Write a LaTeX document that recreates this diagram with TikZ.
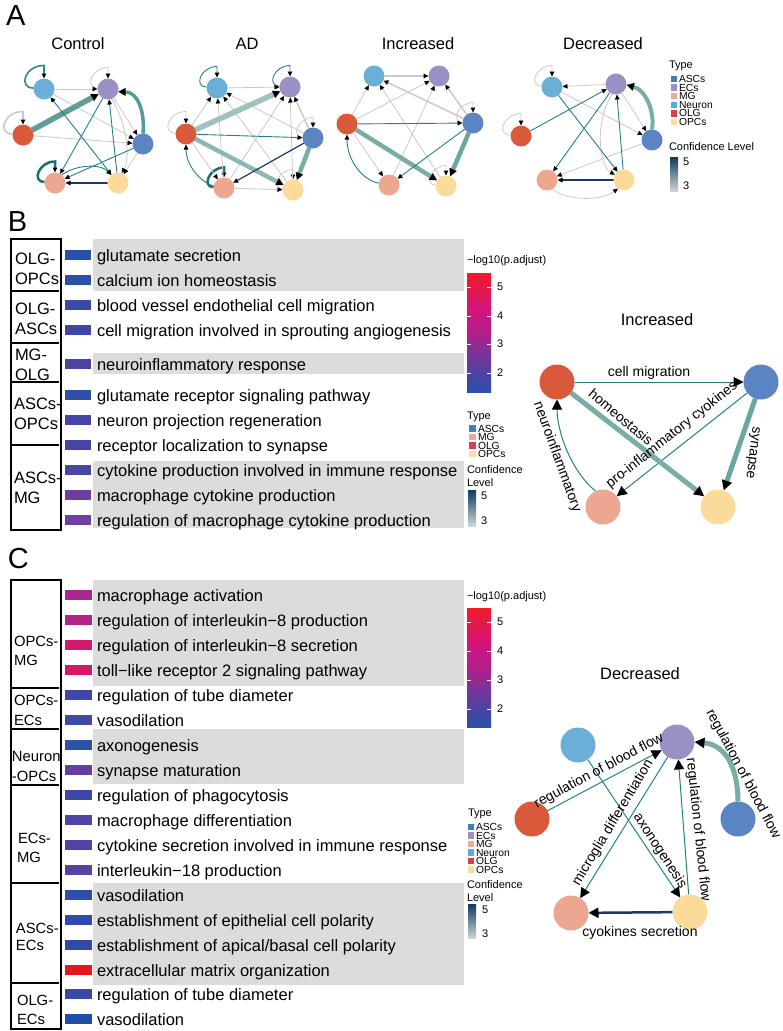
\documentclass[tikz,border=0pt]{standalone}
\usepackage{fontspec}
\setmainfont{Liberation Sans}
\usetikzlibrary{arrows.meta,calc}
\definecolor{cNeu}{HTML}{6BAED6}
\definecolor{cEC}{HTML}{9A90C4}
\definecolor{cOLG}{HTML}{D95A3A}
\definecolor{cASC}{HTML}{5B84C3}
\definecolor{cMG}{HTML}{EDA68F}
\definecolor{cOPC}{HTML}{FADB99}
\definecolor{lASC}{HTML}{3F80BF}
\definecolor{lEC}{HTML}{9A91C5}
\definecolor{lMG}{HTML}{F0AA96}
\definecolor{lNeu}{HTML}{4FB1DB}
\definecolor{lOLG}{HTML}{D9404E}
\definecolor{lOPC}{HTML}{F9DF9F}
\definecolor{eGray}{HTML}{C9C9C9}
\definecolor{eTeal}{HTML}{23808A}
\definecolor{eTeal2}{HTML}{2A8C89}
\definecolor{eDTeal}{HTML}{1E6E78}
\definecolor{eNavy}{HTML}{173C6B}
\definecolor{eThL}{HTML}{A0C2BE}
\definecolor{eThL2}{HTML}{8DB8B2}
\definecolor{eThM}{HTML}{78AEA6}
\definecolor{eThM3}{HTML}{6AA89F}
\definecolor{eThD}{HTML}{5E9E97}
\definecolor{eThC}{HTML}{4F9D96}
\definecolor{bandGray}{HTML}{DCDCDC}
\definecolor{cfTop}{HTML}{0E3A5E}
\definecolor{cfMid}{HTML}{2E8787}
\definecolor{cfBot}{HTML}{CDD5D5}
\definecolor{pvBlue}{HTML}{2A4FA8}
\definecolor{pvPur}{HTML}{5C3D9F}
\definecolor{pvMag}{HTML}{A8238F}
\definecolor{pvPink}{HTML}{D4137A}
\definecolor{pvRed}{HTML}{EE1C26}
% bar colours B
\definecolor{bB1}{HTML}{2850A8}
\definecolor{bB2}{HTML}{2A50A8}
\definecolor{bB3}{HTML}{3C48A5}
\definecolor{bB4}{HTML}{3E47A5}
\definecolor{bB5}{HTML}{4A43A2}
\definecolor{bB6}{HTML}{2E4EA8}
\definecolor{bB7}{HTML}{4545A4}
\definecolor{bB8}{HTML}{4546A4}
\definecolor{bB9}{HTML}{4A44A3}
\definecolor{bB10}{HTML}{6C3EA0}
\definecolor{bB11}{HTML}{703E9F}
% bar colours C
\definecolor{bC1}{HTML}{A8268F}
\definecolor{bC2}{HTML}{B0238B}
\definecolor{bC3}{HTML}{D2176C}
\definecolor{bC4}{HTML}{D4186A}
\definecolor{bC5}{HTML}{3E47A5}
\definecolor{bC6}{HTML}{414AA3}
\definecolor{bC7}{HTML}{2A52A8}
\definecolor{bC8}{HTML}{643FA0}
\definecolor{bC9}{HTML}{3D47A6}
\definecolor{bC10}{HTML}{4D44A3}
\definecolor{bC11}{HTML}{5442A2}
\definecolor{bC12}{HTML}{5742A1}
\definecolor{bC13}{HTML}{2D4DA8}
\definecolor{bC14}{HTML}{3149A7}
\definecolor{bC15}{HTML}{3049A7}
\definecolor{bC16}{HTML}{E8141E}
\definecolor{bC17}{HTML}{3A49A6}
\definecolor{bC18}{HTML}{1E50AA}
\pgfdeclareverticalshading{padj}{100bp}{color(0bp)=(pvBlue); color(25bp)=(pvBlue); color(36bp)=(pvPur); color(48bp)=(pvMag); color(60bp)=(pvPink); color(75bp)=(pvRed); color(100bp)=(pvRed)}
\pgfdeclarelayer{bg}
\pgfsetlayers{bg,main}
\newcommand\myloop[3][]{\draw[#1] (#2.175) .. controls +(-1.2*#3,0) and +(-1.5*#3,0) .. ($(#2.90)+(0,-#3)$) -- (#2.90);}
\begin{document}
\begin{tikzpicture}[x=1pt,y=-1pt,
 every node/.style={inner sep=0pt, outer sep=0pt},
 ncell/.style={circle, minimum size=21pt, draw=none},
 bcell/.style={circle, minimum size=35pt, draw=none},
 ttl/.style={font=\fontsize{16.5}{18}\selectfont, anchor=base},
 plab/.style={font=\fontsize{29}{30}\selectfont, anchor=base west},
 rowtxt/.style={font=\fontsize{16.5}{18}\selectfont, anchor=base west},
 grptxt/.style={font=\fontsize{16.5}{18}\selectfont, anchor=base west},
 grptxtc/.style={font=\fontsize{14.8}{16}\selectfont, anchor=base west},
 barbox/.style={minimum width=26.5pt, minimum height=10.5pt, draw=none},
 band/.style={fill=bandGray, draw=none},
 tbox/.style={draw=black, line width=1.2pt},
 elab/.style={font=\fontsize{14}{15}\selectfont},
 lgt/.style={font=\fontsize{11}{12}\selectfont, anchor=west},
 lge/.style={font=\fontsize{10.3}{11}\selectfont, anchor=west},
 lgsq/.style={minimum size=6.5pt, draw=none},
 ta/.style={-{Triangle[length=5pt,width=4.5pt,color=black]}},
 tab/.style={-{Triangle[length=7.5pt,width=7.5pt,color=black]}},
 gry/.style={ta, draw=eGray, line width=0.8pt},
 tl/.style={ta, draw=eTeal, line width=0.9pt},
 tlw/.style={ta, draw=eTeal2, line width=1.6pt},
 dtl/.style={ta, draw=eDTeal, line width=2.5pt},
 btip/.style={-{Triangle[length=10pt,width=10pt,color=black]}},
 btl/.style={btip, draw=eTeal, line width=1pt},
 bth/.style={btip, line width=5pt},
 bnv/.style={btip, draw=eNavy, line width=2.5pt},
 tickw/.style={draw=white, line width=0.6pt}
]
\useasboundingbox (0,0) rectangle (782,1031);
% ================= Panel A =================
\node[plab] (labA) at (6,25) {A};
\node[ttl] (tA1) at (78,49) {Control};
\node[ttl] (tA2) at (247,49) {AD};
\node[ttl] (tA3) at (418,49) {Increased};
\node[ttl] (tA4) at (603,49) {Decreased};
% Control
\node[ncell,fill=cNeu] (a1N) at (44,89) {};
\node[ncell,fill=cEC] (a1E) at (108,89) {};
\node[ncell,fill=cOLG] (a1O) at (23,135) {};
\node[ncell,fill=cASC] (a1A) at (143,144) {};
\node[ncell,fill=cMG] (a1M) at (55,183) {};
\node[ncell,fill=cOPC] (a1P) at (118,183) {};
% AD
\node[ncell,fill=cNeu] (a2N) at (217,88) {};
\node[ncell,fill=cEC] (a2E) at (290,87) {};
\node[ncell,fill=cOLG] (a2O) at (186,134) {};
\node[ncell,fill=cASC] (a2A) at (313,138) {};
\node[ncell,fill=cMG] (a2M) at (224,188) {};
\node[ncell,fill=cOPC] (a2P) at (293,190) {};
% Increased
\node[ncell,fill=cNeu] (a3N) at (374,76) {};
\node[ncell,fill=cEC] (a3E) at (439,76) {};
\node[ncell,fill=cOLG] (a3O) at (347,124) {};
\node[ncell,fill=cASC] (a3A) at (473,123) {};
\node[ncell,fill=cMG] (a3M) at (389,185) {};
\node[ncell,fill=cOPC] (a3P) at (446,186) {};
% Decreased
\node[ncell,fill=cNeu] (a4N) at (552,87) {};
\node[ncell,fill=cEC] (a4E) at (616,84) {};
\node[ncell,fill=cOLG] (a4O) at (521,136) {};
\node[ncell,fill=cASC] (a4A) at (652,140) {};
\node[ncell,fill=cMG] (a4M) at (547,180) {};
\node[ncell,fill=cOPC] (a4P) at (624,180) {};
\begin{pgfonlayer}{bg}
% Control edges
\myloop[tlw]{a1N}{13}
\myloop[gry]{a1E}{11}
\myloop[gry,line width=1.6pt]{a1O}{13}
\myloop[dtl]{a1M}{11}
\draw[gry] (a1N) -- (a1E);
\draw[gry] (a1N) -- (a1A);
\draw[gry] (a1O) -- (a1A);
\draw[gry] (a1E) -- (a1A);
\draw[gry] (a1E.290) .. controls (128,125) and (130,160) .. (a1P.70);
\draw[gry] (a1A) -- (a1P);
\draw[tab, draw=eThD, line width=5.5pt] (a1O) -- (a1E);
\draw[tl, {Triangle[length=5pt,width=4.5pt,color=black]}-{Triangle[length=5pt,width=4.5pt,color=black]}] (a1N) -- (a1P);
\draw[tl] (a1E) -- (a1M);
\draw[tl] (a1P) -- (a1E);
\draw[tab, draw=eThC, line width=3.5pt] (a1A.90) .. controls (145,112) and (138,92) .. (a1E.345);
\draw[tl] (a1A) -- (a1M);
\draw[ta, draw=eNavy, line width=1.5pt] (a1P) -- (a1M);
\draw[tl] (a1M.50) .. controls (75,165) and (100,163) .. (a1P.130);
% AD edges
\myloop[tl]{a2N}{11}
\myloop[tl]{a2E}{11}
\myloop[gry]{a2O}{12}
\myloop[dtl]{a2M}{10}
\myloop[gry]{a2A}{10}
\myloop[gry]{a2P}{10}
\draw[gry] (a2N) -- (a2E);
\draw[gry] (a2O) -- (a2N);
\draw[gry] (a2M) -- (a2N);
\draw[gry] (a2P) -- (a2N);
\draw[gry] (a2A) -- (a2N);
\draw[gry] (a2M) -- (a2E);
\draw[gry] (a2P) -- (a2E);
\draw[gry, line width=1.4pt] (a2A) -- (a2E);
\draw[gry] (a2O) -- (a2M);
\draw[gry] (a2M) -- (a2P);
\draw[tab, draw=eThL, line width=5.5pt] (a2O) -- (a2E);
\draw[tl] (a2O) -- (a2A);
\draw[tab, draw=eThL2, line width=4.5pt] (a2O) -- (a2P);
\draw[tab, draw=eThM, line width=4.5pt] (a2A) -- (a2P);
\draw[ta, draw=eNavy, line width=1.2pt] (a2A) -- (a2M);
\draw[tl] (a2M.170) .. controls (200,182) and (186,165) .. (a2O.270);
% Increased edges
\myloop[gry]{a3A}{10}
\myloop[gry]{a3P}{10}
\draw[gry, line width=1.2pt] (a3N) -- (a3E);
\draw[gry, line width=1.5pt] (a3A) -- (a3N);
\draw[gry, line width=1.5pt] (a3A) -- (a3E);
\draw[gry] (a3O) -- (a3N);
\draw[gry] (a3O) -- (a3E);
\draw[gry] (a3O) -- (a3M);
\draw[gry] (a3M) -- (a3E);
\draw[gry] (a3P) -- (a3N);
\draw[tl] (a3O) -- (a3A);
\draw[tab, draw=eThM, line width=4.5pt] (a3O) -- (a3P);
\draw[tab, draw=eThM3, line width=4.5pt] (a3A) -- (a3P);
\draw[tl] (a3A) -- (a3M);
\draw[tl] (a3M.170) .. controls (362,180) and (347,160) .. (a3O.270);
% Decreased edges
\myloop[gry]{a4N}{11}
\myloop[gry]{a4O}{12}
\draw[gry] (a4E) -- (a4N);
\draw[gry] (a4E) -- (a4A);
\draw[gry] (a4N) -- (a4A);
\draw[gry] (a4A) -- (a4M);
\draw[gry] (a4M.300) .. controls (565,200) and (600,202) .. (a4P.235);
\draw[gry] (a4E.250) .. controls (595,120) and (598,165) .. (a4P.150);
\draw[tl] (a4O) -- (a4E);
\draw[tl] (a4N) -- (a4P);
\draw[tl] (a4E) -- (a4M);
\draw[tl] (a4P) -- (a4E);
\draw[tab, draw=eThM, line width=4pt] (a4A.90) .. controls (655,112) and (646,90) .. (a4E.355);
\draw[ta, draw=eNavy, line width=1.5pt] (a4P) -- (a4M);
\end{pgfonlayer}
% Legend A
\node[lgt] (aTy) at (669,66) {Type};
\node[lgsq, fill=lASC] (aq1) at (674,79) {};
\node[lgsq, fill=lEC] (aq2) at (674,87.6) {};
\node[lgsq, fill=lMG] (aq3) at (674,96.2) {};
\node[lgsq, fill=lNeu] (aq4) at (674,104.8) {};
\node[lgsq, fill=lOLG] (aq5) at (674,113.4) {};
\node[lgsq, fill=lOPC] (aq6) at (674,122) {};
\node[lge] (at1) at (679,79) {ASCs};
\node[lge] (at2) at (679,87.6) {ECs};
\node[lge] (at3) at (679,96.2) {MG};
\node[lge] (at4) at (679,104.8) {Neuron};
\node[lge] (at5) at (679,113.4) {OLG};
\node[lge] (at6) at (679,122) {OPCs};
\node[lgt] (aCL) at (669,147) {Confidence Level};
\shade[top color=cfTop, middle color=cfMid, bottom color=cfBot] (670,157) rectangle (678,191);
\node[lgt] (a5) at (683,162) {5};
\node[lgt] (a3) at (683,186) {3};
% ================= Panel B =================
\node[plab] (labB) at (8,231) {B};
\fill[band] (93,239) rectangle (464,291);
\fill[band] (93,353) rectangle (464,374);
\fill[band] (93,461) rectangle (464,528);
\draw[tbox] (11,239) rectangle (61,530);
\draw[tbox] (11,291) -- (59,291);
\draw[tbox] (11,343) -- (59,343);
\draw[tbox] (11,382) -- (59,382);
\draw[tbox] (11,445) -- (59,445);
\node[grptxt] (bg1a) at (15,264) {OLG-};
\node[grptxt] (bg1b) at (15,284) {OPCs};
\node[grptxt] (bg2a) at (15,314) {OLG-};
\node[grptxt] (bg2b) at (15,334) {ASCs};
\node[grptxt] (bg3a) at (15,360) {MG-};
\node[grptxt] (bg3b) at (15,380) {OLG};
\node[grptxt] (bg4a) at (14,409) {ASCs-};
\node[grptxt] (bg4b) at (14,429) {OPCs};
\node[grptxt] (bg5a) at (14,483) {ASCs-};
\node[grptxt] (bg5b) at (14,503) {MG};
\node[barbox, fill=bB1] (bb1) at (78,255) {};
\node[barbox, fill=bB2] (bb2) at (78,280) {};
\node[barbox, fill=bB3] (bb3) at (78,305) {};
\node[barbox, fill=bB4] (bb4) at (78,330) {};
\node[barbox, fill=bB5] (bb5) at (78,364) {};
\node[barbox, fill=bB6] (bb6) at (78,395) {};
\node[barbox, fill=bB7] (bb7) at (78,420) {};
\node[barbox, fill=bB8] (bb8) at (78,445) {};
\node[barbox, fill=bB9] (bb9) at (78,470) {};
\node[barbox, fill=bB10] (bb10) at (78,495) {};
\node[barbox, fill=bB11] (bb11) at (78,520) {};
\node[rowtxt] (br1) at (97,261) {glutamate secretion};
\node[rowtxt] (br2) at (97,286) {calcium ion homeostasis};
\node[rowtxt] (br3) at (97,311) {blood vessel endothelial cell migration};
\node[rowtxt] (br4) at (97,336) {cell migration involved in sprouting angiogenesis};
\node[rowtxt] (br5) at (97,370) {neuroinflammatory response};
\node[rowtxt] (br6) at (97,401) {glutamate receptor signaling pathway};
\node[rowtxt] (br7) at (97,426) {neuron projection regeneration};
\node[rowtxt] (br8) at (97,451) {receptor localization to synapse};
\node[rowtxt] (br9) at (97,476) {cytokine production involved in immune response};
\node[rowtxt] (br10) at (97,501) {macrophage cytokine production};
\node[rowtxt] (br11) at (97,526) {regulation of macrophage cytokine production};
% B colourbar
\node[lgt, anchor=base west] (bpv) at (467,263) {−log10(p.adjust)};
\shade[shading=padj] (467,273) rectangle (491,392);
\draw[tickw] (467,287) -- (471,287) (487,287) -- (491,287);
\draw[tickw] (467,316) -- (471,316) (487,316) -- (491,316);
\draw[tickw] (467,344) -- (471,344) (487,344) -- (491,344);
\draw[tickw] (467,373) -- (471,373) (487,373) -- (491,373);
\node[lgt] (bk5) at (497,287) {5};
\node[lgt] (bk4) at (497,316) {4};
\node[lgt] (bk3) at (497,344) {3};
\node[lgt] (bk2) at (497,373) {2};
\node[lgt] (bTy) at (467,417) {Type};
\node[lgsq, fill=lASC] (bq1) at (472.5,428.5) {};
\node[lgsq, fill=lMG] (bq2) at (472.5,437) {};
\node[lgsq, fill=lOLG] (bq3) at (472.5,445.5) {};
\node[lgsq, fill=lOPC] (bq4) at (472.5,454) {};
\node[lge] (bt1) at (478,428.5) {ASCs};
\node[lge] (bt2) at (478,437) {MG};
\node[lge] (bt3) at (478,445.5) {OLG};
\node[lge] (bt4) at (478,454) {OPCs};
\node[lgt] (bCo) at (467,470) {Confidence};
\node[lgt] (bLe) at (467,483) {Level};
\shade[top color=cfTop, middle color=cfMid, bottom color=cfBot] (468,490) rectangle (476,526);
\node[lgt] (bc5) at (481,496) {5};
\node[lgt] (bc3) at (481,521) {3};
% B network
\node[ttl] (tB) at (657,325) {Increased};
\node[bcell,fill=cOLG] (bO) at (557,382) {};
\node[bcell,fill=cASC] (bA) at (761,382) {};
\node[bcell,fill=cMG] (bM) at (603,507) {};
\node[bcell,fill=cOPC] (bP) at (718,507) {};
\begin{pgfonlayer}{bg}
\draw[btl] (bO) -- (bA);
\draw[btl] (bA) -- (bM);
\draw[bth, draw=eThM] (bO) -- (bP);
\draw[bth, draw=eThM3] (bA) -- (bP);
\draw[btl] (bM.115) .. controls (570,470) and (557,430) .. (bO.270);
\end{pgfonlayer}
\node[elab] (lb1) at (649,373) {cell migration};
\node[elab, rotate=-40] (lb2) at (621,417) {homeostasis};
\node[elab, rotate=38.5] (lb3) at (672,435) {pro-inflammatory cyokines};
\node[elab, rotate=-97] (lb4) at (752,453) {synapse};
\node[elab, rotate=-70] (lb5) at (557,457) {neuroinflammatory};
% ================= Panel C =================
\node[plab] (labC) at (8,568) {C};
\fill[band] (93,580) rectangle (464,686);
\fill[band] (93,729) rectangle (464,784);
\fill[band] (93,883) rectangle (464,985);
\draw[tbox] (11,580) rectangle (61,1029);
\draw[tbox] (11,688) -- (59,688);
\draw[tbox] (11,729) -- (59,729);
\draw[tbox] (11,785) -- (59,785);
\draw[tbox] (11,883) -- (59,883);
\draw[tbox] (11,983) -- (59,983);
\node[grptxtc] (cg1a) at (14,646) {OPCs-};
\node[grptxtc] (cg1b) at (14,665) {MG};
\node[grptxtc] (cg2a) at (14,705) {OPCs-};
\node[grptxtc] (cg2b) at (14,725) {ECs};
\node[grptxtc] (cg3a) at (12,761) {Neuron};
\node[grptxtc] (cg3b) at (12,781) {-OPCs};
\node[grptxtc] (cg4a) at (18,843) {ECs-};
\node[grptxtc] (cg4b) at (17,862) {MG};
\node[grptxtc] (cg5a) at (16,933) {ASCs-};
\node[grptxtc] (cg5b) at (16,950) {ECs};
\node[grptxtc] (cg6a) at (17,1005) {OLG-};
\node[grptxtc] (cg6b) at (17,1024) {ECs};
\node[barbox, fill=bC1] (cb1) at (78.5,595) {};
\node[barbox, fill=bC2] (cb2) at (78.5,620) {};
\node[barbox, fill=bC3] (cb3) at (78.5,645) {};
\node[barbox, fill=bC4] (cb4) at (78.5,670) {};
\node[barbox, fill=bC5] (cb5) at (78.5,695) {};
\node[barbox, fill=bC6] (cb6) at (78.5,720) {};
\node[barbox, fill=bC7] (cb7) at (78.5,745) {};
\node[barbox, fill=bC8] (cb8) at (78.5,770) {};
\node[barbox, fill=bC9] (cb9) at (78.5,795) {};
\node[barbox, fill=bC10] (cb10) at (78.5,820) {};
\node[barbox, fill=bC11] (cb11) at (78.5,845) {};
\node[barbox, fill=bC12] (cb12) at (78.5,870) {};
\node[barbox, fill=bC13] (cb13) at (78.5,895) {};
\node[barbox, fill=bC14] (cb14) at (78.5,920) {};
\node[barbox, fill=bC15] (cb15) at (78.5,945) {};
\node[barbox, fill=bC16] (cb16) at (78.5,970) {};
\node[barbox, fill=bC17] (cb17) at (78.5,994) {};
\node[barbox, fill=bC18] (cb18) at (78.5,1019) {};
\node[rowtxt] (cr1) at (97,601) {macrophage activation};
\node[rowtxt] (cr2) at (97,626) {regulation of interleukin−8 production};
\node[rowtxt] (cr3) at (97,651) {regulation of interleukin−8 secretion};
\node[rowtxt] (cr4) at (97,676) {toll−like receptor 2 signaling pathway};
\node[rowtxt] (cr5) at (97,701) {regulation of tube diameter};
\node[rowtxt] (cr6) at (97,726) {vasodilation};
\node[rowtxt] (cr7) at (97,751) {axonogenesis};
\node[rowtxt] (cr8) at (97,776) {synapse maturation};
\node[rowtxt] (cr9) at (97,801) {regulation of phagocytosis};
\node[rowtxt] (cr10) at (97,826) {macrophage differentiation};
\node[rowtxt] (cr11) at (97,851) {cytokine secretion involved in immune response};
\node[rowtxt] (cr12) at (97,876) {interleukin−18 production};
\node[rowtxt] (cr13) at (97,901) {vasodilation};
\node[rowtxt] (cr14) at (97,926) {establishment of epithelial cell polarity};
\node[rowtxt] (cr15) at (97,951) {establishment of apical/basal cell polarity};
\node[rowtxt] (cr16) at (97,976) {extracellular matrix organization};
\node[rowtxt] (cr17) at (97,1000) {regulation of tube diameter};
\node[rowtxt] (cr18) at (97,1025) {vasodilation};
% C colourbar
\node[lgt, anchor=base west] (cpv) at (467,599) {−log10(p.adjust)};
\shade[shading=padj] (467,608) rectangle (491,727);
\draw[tickw] (467,622) -- (471,622) (487,622) -- (491,622);
\draw[tickw] (467,651) -- (471,651) (487,651) -- (491,651);
\draw[tickw] (467,680) -- (471,680) (487,680) -- (491,680);
\draw[tickw] (467,709) -- (471,709) (487,709) -- (491,709);
\node[lgt] (ck5) at (497,622) {5};
\node[lgt] (ck4) at (497,651) {4};
\node[lgt] (ck3) at (497,680) {3};
\node[lgt] (ck2) at (497,709) {2};
\node[lgt] (cTy) at (468,814) {Type};
\node[lgsq, fill=lASC] (cq1) at (471,827) {};
\node[lgsq, fill=lEC] (cq2) at (471,835.5) {};
\node[lgsq, fill=lMG] (cq3) at (471,844) {};
\node[lgsq, fill=lNeu] (cq4) at (471,852.5) {};
\node[lgsq, fill=lOLG] (cq5) at (471,861) {};
\node[lgsq, fill=lOPC] (cq6) at (471,869.5) {};
\node[lge] (ct1) at (476,827) {ASCs};
\node[lge] (ct2) at (476,835.5) {ECs};
\node[lge] (ct3) at (476,844) {MG};
\node[lge] (ct4) at (476,852.5) {Neuron};
\node[lge] (ct5) at (476,861) {OLG};
\node[lge] (ct6) at (476,869.5) {OPCs};
\node[lgt] (cCo) at (467,885) {Confidence};
\node[lgt] (cLe) at (467,898) {Level};
\shade[top color=cfTop, middle color=cfMid, bottom color=cfBot] (468,904) rectangle (476,938);
\node[lgt] (cc5) at (482,910) {5};
\node[lgt] (cc3) at (482,934) {3};
% C network
\node[ttl] (tC) at (640,679) {Decreased};
\node[bcell,fill=cNeu] (cN) at (578,745) {};
\node[bcell,fill=cEC] (cE) at (677,742) {};
\node[bcell,fill=cOLG] (cO) at (532,819) {};
\node[bcell,fill=cASC] (cA) at (738,819) {};
\node[bcell,fill=cMG] (cM) at (571,913) {};
\node[bcell,fill=cOPC] (cP) at (690,912) {};
\begin{pgfonlayer}{bg}
\draw[btl] (cO) -- (cE);
\draw[btl] (cN) -- (cP);
\draw[btl] (cE) -- (cM);
\draw[btl] (cP) -- (cE);
\draw[bth, draw=eThM] (cA.90) .. controls (738,772) and (728,745) .. (cE.0);
\draw[bnv] (cP) -- (cM);
\end{pgfonlayer}
\node[elab, rotate=28] (lc1) at (599,771) {regulation of blood flow};
\node[elab, rotate=-62] (lc2) at (743,774) {regulation of blood flow};
\node[elab, rotate=-57] (lc3) at (660,851) {axonogenesis};
\node[elab, rotate=59] (lc4) at (613,823) {microglia differentiation};
\node[elab, rotate=-84] (lc5) at (698,830) {regulation of blood flow};
\node[elab] (lc6) at (640,933) {cyokines secretion};
\end{tikzpicture}
\end{document}
